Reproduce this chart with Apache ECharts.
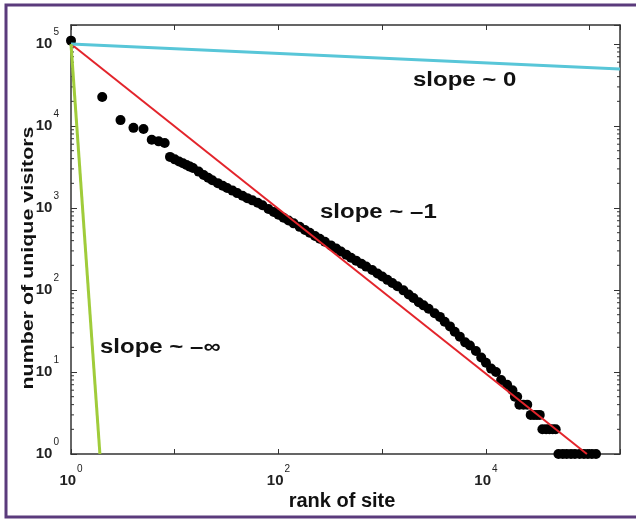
<!DOCTYPE html>
<html>
<head>
<meta charset="utf-8">
<script src="https://cdn.jsdelivr.net/npm/echarts@6/dist/echarts.min.js"></script>
<style>
html, body { margin: 0; padding: 0; background: #fff; }
#chart { width: 636px; height: 521px; }
</style>
</head>
<body>
<div id="chart"></div>
<script>
// rank of site vs unique visitors
var ranks = [1, 2, 3, 4, 5, 6, 7, 8,
    9, 10, 11, 12, 13, 14, 15,
    17, 19, 21, 23, 26, 29, 32, 36, 40, 45, 50, 56, 63, 70,
    80, 90, 100, 112, 125, 140, 160, 180, 200, 225, 250, 280, 320, 360, 400, 450, 500, 560, 630, 700,
    800, 900, 1000, 1120, 1250, 1400, 1600, 1800, 2000, 2250, 2500, 2800, 3200, 3600, 4000, 4500, 5000, 5600, 6300, 7000,
    8000, 9000, 10000, 11200, 12500, 14000, 16000, 18000,
    19000, 20000,
    21000, 23000, 25000,
    27000, 29000, 31000, 33000,
    35000, 38000, 41000, 44000, 47000,
    50000, 55000, 60000, 66000, 72000, 80000, 88000, 96000, 105000, 115000];
var visitors = [110000, 22600, 11800, 9500, 9200, 6800, 6500, 6200,
    4200, 3920, 3690, 3510, 3340, 3200, 3080,
    2780, 2530, 2340, 2180, 2010, 1870, 1750, 1630, 1520, 1410, 1320, 1240, 1160, 1080,
    975, 893, 826, 762, 705, 650, 589, 540, 499, 456, 421, 387, 350, 320, 295, 270, 248, 228, 209, 193,
    175, 159, 146, 133, 122, 111, 99, 88, 80, 71, 65, 59, 52, 47, 41, 36, 31, 27, 23, 21,
    18, 15, 13, 11, 10, 8, 7, 6,
    5, 5,
    4, 4, 4,
    3, 3, 3, 3,
    2, 2, 2, 2, 2,
    1, 1, 1, 1, 1, 1, 1, 1, 1, 1];

// reference lines, all starting at (1, 10^5)
var slopeZero = [[1, 100000], [195900, 49500]];
var slopeOne = [[1, 100000], [94000, 1]];
var slopeInf = [[1, 100000], [1.9, 1]];

// log minor ticks on the y axis
var yMinor = [2, 3, 4, 5, 6, 7, 8, 9,
    20, 30, 40, 50, 60, 70, 80, 90,
    200, 300, 400, 500, 600, 700, 800, 900,
    2000, 3000, 4000, 5000, 6000, 7000, 8000, 9000,
    20000, 30000, 40000, 50000, 60000, 70000, 80000, 90000];

var font = 'Liberation Sans, Arial, sans-serif';
var axisColor = '#333';

var points = [];
for (var i = 0; i < ranks.length; i++) {
    points.push([ranks[i], visitors[i]]);
}

function powLabel(even) {
    return function (v) {
        var lg = Math.log(v) / Math.LN10;
        var e = Math.round(lg);
        if (Math.abs(lg - e) > 1e-6) return '';
        if (even && e % 2 !== 0) return '';
        return '{b|10}{s|' + e + '}';
    };
}

var labelRich = {
    b: {fontFamily: font, fontWeight: 'bold', fontSize: 15, color: '#222'},
    s: {fontFamily: font, fontSize: 10, color: '#222', padding: [0, 0, 24, 1]}
};

function xAxisCfg(pos, showLabel) {
    return {
        type: 'log', logBase: 10, min: 1, max: 195900, position: pos,
        axisLine: {show: true, lineStyle: {color: axisColor, width: 1.5}},
        axisTick: {show: true, inside: true, length: 5, lineStyle: {color: axisColor}},
        splitLine: {show: false},
        axisLabel: {show: showLabel, margin: 10, formatter: powLabel(true), rich: labelRich}
    };
}

function yAxisCfg(pos, showLabel) {
    return {
        type: 'log', logBase: 10, min: 1, max: 170600, position: pos,
        axisLine: {show: true, lineStyle: {color: axisColor, width: 1.5}},
        axisTick: {show: true, inside: true, length: 6, lineStyle: {color: axisColor}},
        splitLine: {show: false},
        axisLabel: {show: showLabel, margin: 12, formatter: powLabel(false), rich: labelRich}
    };
}

function note(txt, x, y, size, sx, rot, align) {
    return {
        type: 'text', x: x, y: y, rotation: rot || 0, scaleX: sx,
        style: {text: txt, font: 'bold ' + size + 'px ' + font, fill: '#111',
            align: align || 'left', verticalAlign: 'middle'}
    };
}

var option = {
    backgroundColor: '#fff',
    animation: false,
    grid: {left: 71, right: 16, top: 25, bottom: 67},
    xAxis: [xAxisCfg('bottom', true), xAxisCfg('top', false)],
    yAxis: [yAxisCfg('left', true), yAxisCfg('right', false)],
    graphic: [
        {type: 'polyline', shape: {points: [[636, 5], [6, 5], [6, 517], [636, 517]]},
            style: {stroke: '#5b3b7c', lineWidth: 3, fill: null}},
        note('number of unique visitors', 28, 258, 17, 1.26, Math.PI / 2, 'center'),
        note('rank of site', 342, 501, 20, 1, 0, 'center'),
        note('slope ~ 0', 413, 80, 20, 1.2),
        note('slope ~ \u20131', 320, 212, 20, 1.2),
        note('slope ~ \u2013\u221e', 100, 347, 20, 1.2)
    ],
    series: [
        {
            type: 'custom',
            silent: true,
            clip: false,
            data: yMinor.map(function (v) { return [1, v]; }),
            renderItem: function (params, api) {
                var y = api.coord([1, api.value(1)])[1];
                var cs = params.coordSys;
                var st = {stroke: axisColor, lineWidth: 1};
                return {type: 'group', children: [
                    {type: 'line', shape: {x1: cs.x, y1: y, x2: cs.x + 3, y2: y}, style: st},
                    {type: 'line', shape: {x1: cs.x + cs.width - 3, y1: y, x2: cs.x + cs.width, y2: y}, style: st}
                ]};
            }
        },
        {
            name: 'sites',
            type: 'scatter',
            data: points,
            symbolSize: 10,
            clip: false,
            itemStyle: {color: '#000', opacity: 1}
        },
        {
            type: 'line', data: slopeOne, symbol: 'none',
            lineStyle: {color: '#e3242b', width: 2}
        },
        {
            type: 'line', data: slopeZero, symbol: 'none',
            lineStyle: {color: '#58c6d8', width: 3}
        },
        {
            type: 'line', data: slopeInf, symbol: 'none',
            lineStyle: {color: '#a0cc3a', width: 3}
        }
    ]
};

var chart = echarts.init(document.getElementById('chart'));
chart.setOption(option);
</script>
</body>
</html>
